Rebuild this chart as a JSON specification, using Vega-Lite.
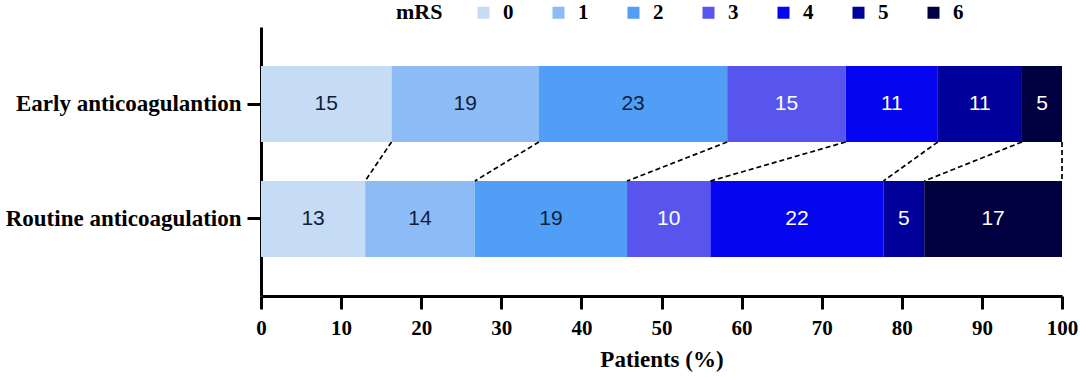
{
  "$schema": "https://vega.github.io/schema/vega-lite/v6.json",
  "width": 801,
  "height": 269,
  "autosize": "none",
  "padding": {"left": 261, "top": 27, "right": 18, "bottom": 82},
  "background": "white",
  "config": {"view": {"stroke": null}, "font": "Liberation Serif"},
  "data": {
    "values": [
      {"group": "Early anticoagulantion", "mRS": "0", "pct": 16.3, "n": 15},
      {"group": "Early anticoagulantion", "mRS": "1", "pct": 18.4, "n": 19},
      {"group": "Early anticoagulantion", "mRS": "2", "pct": 23.5, "n": 23},
      {"group": "Early anticoagulantion", "mRS": "3", "pct": 14.8, "n": 15},
      {"group": "Early anticoagulantion", "mRS": "4", "pct": 11.5, "n": 11},
      {"group": "Early anticoagulantion", "mRS": "5", "pct": 10.5, "n": 11},
      {"group": "Early anticoagulantion", "mRS": "6", "pct": 5.0, "n": 5},
      {"group": "Routine anticoagulation", "mRS": "0", "pct": 13.0, "n": 13},
      {"group": "Routine anticoagulation", "mRS": "1", "pct": 13.7, "n": 14},
      {"group": "Routine anticoagulation", "mRS": "2", "pct": 19.0, "n": 19},
      {"group": "Routine anticoagulation", "mRS": "3", "pct": 10.4, "n": 10},
      {"group": "Routine anticoagulation", "mRS": "4", "pct": 21.6, "n": 22},
      {"group": "Routine anticoagulation", "mRS": "5", "pct": 5.1, "n": 5},
      {"group": "Routine anticoagulation", "mRS": "6", "pct": 17.2, "n": 17}
    ]
  },
  "layer": [
    {
      "mark": {"type": "bar"},
      "encoding": {
        "y": {
          "field": "group", "type": "nominal",
          "sort": ["Early anticoagulantion", "Routine anticoagulation"],
          "scale": {"paddingInner": 0.34, "paddingOuter": 0.34},
          "axis": {
            "title": null, "labelFont": "Liberation Serif", "labelFontWeight": "bold",
            "labelFontSize": 23, "labelColor": "black", "tickSize": 14, "tickWidth": 3,
            "tickColor": "black", "domainColor": "black", "domainWidth": 3, "labelPadding": 6,
            "labelLimit": 0
          }
        },
        "x": {
          "field": "pct", "type": "quantitative", "stack": "zero",
          "scale": {"domain": [0, 100], "nice": false},
          "axis": {
            "title": "Patients (%)", "titleFont": "Liberation Serif", "titleFontSize": 23,
            "titleFontWeight": "bold", "titleColor": "black", "titlePadding": 10,
            "labelFont": "Liberation Serif", "labelFontSize": 21, "labelFontWeight": "bold",
            "labelColor": "black", "values": [0, 10, 20, 30, 40, 50, 60, 70, 80, 90, 100],
            "tickSize": 13, "tickWidth": 3, "tickColor": "black", "domainWidth": 3,
            "domainColor": "black", "grid": false, "labelPadding": 8, "labelFlush": false,
            "labelOverlap": false
          }
        },
        "color": {
          "field": "mRS", "type": "nominal",
          "scale": {
            "domain": ["0", "1", "2", "3", "4", "5", "6"],
            "range": ["#c6dbf4", "#8dbbf6", "#519ef6", "#5855ee", "#0505f0", "#00009a", "#000040"]
          },
          "legend": {
            "orient": "none", "legendX": 135, "legendY": -25, "direction": "horizontal",
            "columns": 7, "title": "mRS", "titleOrient": "left",
            "titleFont": "Liberation Serif", "titleFontSize": 22, "titleFontWeight": "bold",
            "titleColor": "black", "titlePadding": 30,
            "labelFont": "Liberation Serif", "labelFontSize": 21, "labelFontWeight": "bold",
            "labelColor": "black", "symbolType": "square", "symbolSize": 144,
            "symbolStrokeWidth": 0, "labelOffset": 9, "columnPadding": 34
          }
        },
        "order": {"field": "mRS", "type": "ordinal"}
      }
    },
    {
      "mark": {"type": "text", "font": "Liberation Sans", "fontSize": 21, "baseline": "middle", "align": "center"},
      "encoding": {
        "y": {"field": "group", "type": "nominal", "sort": ["Early anticoagulantion", "Routine anticoagulation"]},
        "x": {"field": "pct", "type": "quantitative", "stack": "zero", "bandPosition": 0.5},
        "detail": {"field": "mRS"},
        "order": {"field": "mRS", "type": "ordinal"},
        "text": {"field": "n"},
        "color": {"condition": {"test": "datum.mRS <= '2'", "value": "#0f1e3c"}, "value": "white"}
      }
    },
    {
      "transform": [
        {"stack": "pct", "groupby": ["group"], "sort": [{"field": "mRS"}], "as": ["s0", "s1"]},
        {"pivot": "group", "value": "s1", "groupby": ["mRS"]}
      ],
      "mark": {"type": "rule", "strokeDash": [5, 3], "strokeWidth": 1.7, "color": "black"},
      "encoding": {
        "x": {"field": "Early anticoagulantion", "type": "quantitative"},
        "x2": {"field": "Routine anticoagulation"},
        "y": {"datum": "Early anticoagulantion", "type": "nominal", "bandPosition": 1},
        "y2": {"datum": "Routine anticoagulation", "bandPosition": 0}
      }
    }
  ]
}
